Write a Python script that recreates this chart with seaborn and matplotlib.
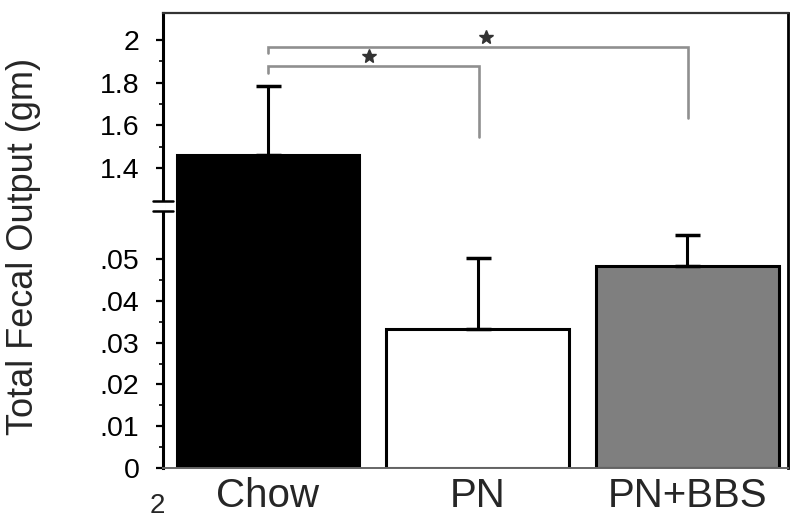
import numpy as np
import pandas as pd
import seaborn as sns
from matplotlib import pyplot as plt
from matplotlib import transforms

# values
groups = ['Chow', 'PN', 'PN+BBS']
means = [1.461, 0.0333, 0.0483]
sems = [0.323, 0.0169, 0.0074]
bar_colors = ['#000000', '#ffffff', '#7f7f7f']

major_ticks = [0, 0.01, 0.02, 0.03, 0.04, 0.05, 1.4, 1.6, 1.8, 2.0]
major_labels = ['0', '.01', '.02', '.03', '.04', '.05', '1.4', '1.6', '1.8', '2']
minor_ticks = [0.005, 0.015, 0.025, 0.035, 0.045, 1.5, 1.7, 1.9]

# significance brackets:
# (from group, to group, bracket height, left drop, right drop, star x, star height)
brackets = [(0, 1, 1.878, 1.845, 1.545, 0.48, 1.925),
            (0, 2, 1.967, 1.939, 1.634, 1.04, 2.014)]

# broken axis: lower part 0..0.0615, upper part 1.245..2.127
low_top, up_bottom, y_top = 0.0615, 1.245, 2.127
val_pts = [-1.0, 0.0, low_top, up_bottom, y_top, 3.0]
pix_pts = [-4180.0, 0.0, 257.0, 267.0, 455.0, 641.0]


def fwd(v):
    return np.interp(v, val_pts, pix_pts)


def inv(p):
    return np.interp(p, pix_pts, val_pts)


sns.set_style('ticks')
plt.rcParams['font.family'] = ['Liberation Sans', 'DejaVu Sans']

fig = plt.figure(figsize=(8, 5.27), dpi=100)
ax = fig.add_axes([163 / 800, 1 - 468 / 527, 625 / 800, 455 / 527])

df = pd.DataFrame({'group': groups, 'mean': means})
sns.barplot(data=df, x='group', y='mean', hue='group', palette=bar_colors,
            edgecolor='black', linewidth=2.2, width=0.87, legend=False, ax=ax,
            zorder=2)

x = np.arange(len(groups))
ax.errorbar(x, means, yerr=[np.zeros(len(sems)), sems], fmt='none',
            ecolor='black', elinewidth=2.2, capsize=9, capthick=2.5, zorder=3)

ax.set_yscale('function', functions=(fwd, inv))
ax.set_ylim(0, y_top)
ax.set_xlim(-0.5, 2.48)

ax.set_yticks(major_ticks)
ax.set_yticklabels(major_labels)
ax.set_yticks(minor_ticks, minor=True)
ax.tick_params(axis='y', which='major', length=5, width=1.6, pad=12,
               labelsize=20.5, colors='black')
ax.tick_params(axis='y', which='minor', length=3, width=1.4)
ax.tick_params(axis='x', length=0, pad=6.5, labelsize=29)
ax.set_xlabel('')
ax.set_ylabel('')

for side, lw, col in [('left', 2.2, 'black'), ('right', 2.0, 'black'),
                      ('top', 1.6, '#333333'), ('bottom', 1.4, '#666666')]:
    ax.spines[side].set_visible(True)
    ax.spines[side].set_linewidth(lw)
    ax.spines[side].set_color(col)

# break marks on left spine
trans = transforms.blended_transform_factory(ax.transAxes, ax.transData)
ax.plot([0, 0], [low_top, up_bottom], color='white', lw=4, transform=trans,
        clip_on=False, zorder=5, solid_capstyle='butt')
for yb in (low_top, up_bottom):
    ax.plot([-0.016, 0.016], [yb, yb], color='black', lw=1.8, transform=trans,
            clip_on=False, zorder=6)

# significance brackets
for g0, g1, h, d0, d1, sx, sy in brackets:
    ax.plot([x[g0], x[g0], x[g1] + 0.005, x[g1] + 0.005], [d0, h, h, d1],
            color='#8f8f8f', lw=1.9, zorder=4, solid_joinstyle='miter')
    ax.plot([sx], [sy], marker='*', color='#333333', markersize=10, zorder=4)

fig.text(23.5 / 800, 1 - 246.5 / 527, 'Total Fecal Output (gm)', rotation=90,
         ha='center', va='center', fontsize=26)
fig.text(157 / 800, 1 - 506 / 527, '2', ha='center', va='center', fontsize=20)

fig.savefig('out.png', dpi=100)
